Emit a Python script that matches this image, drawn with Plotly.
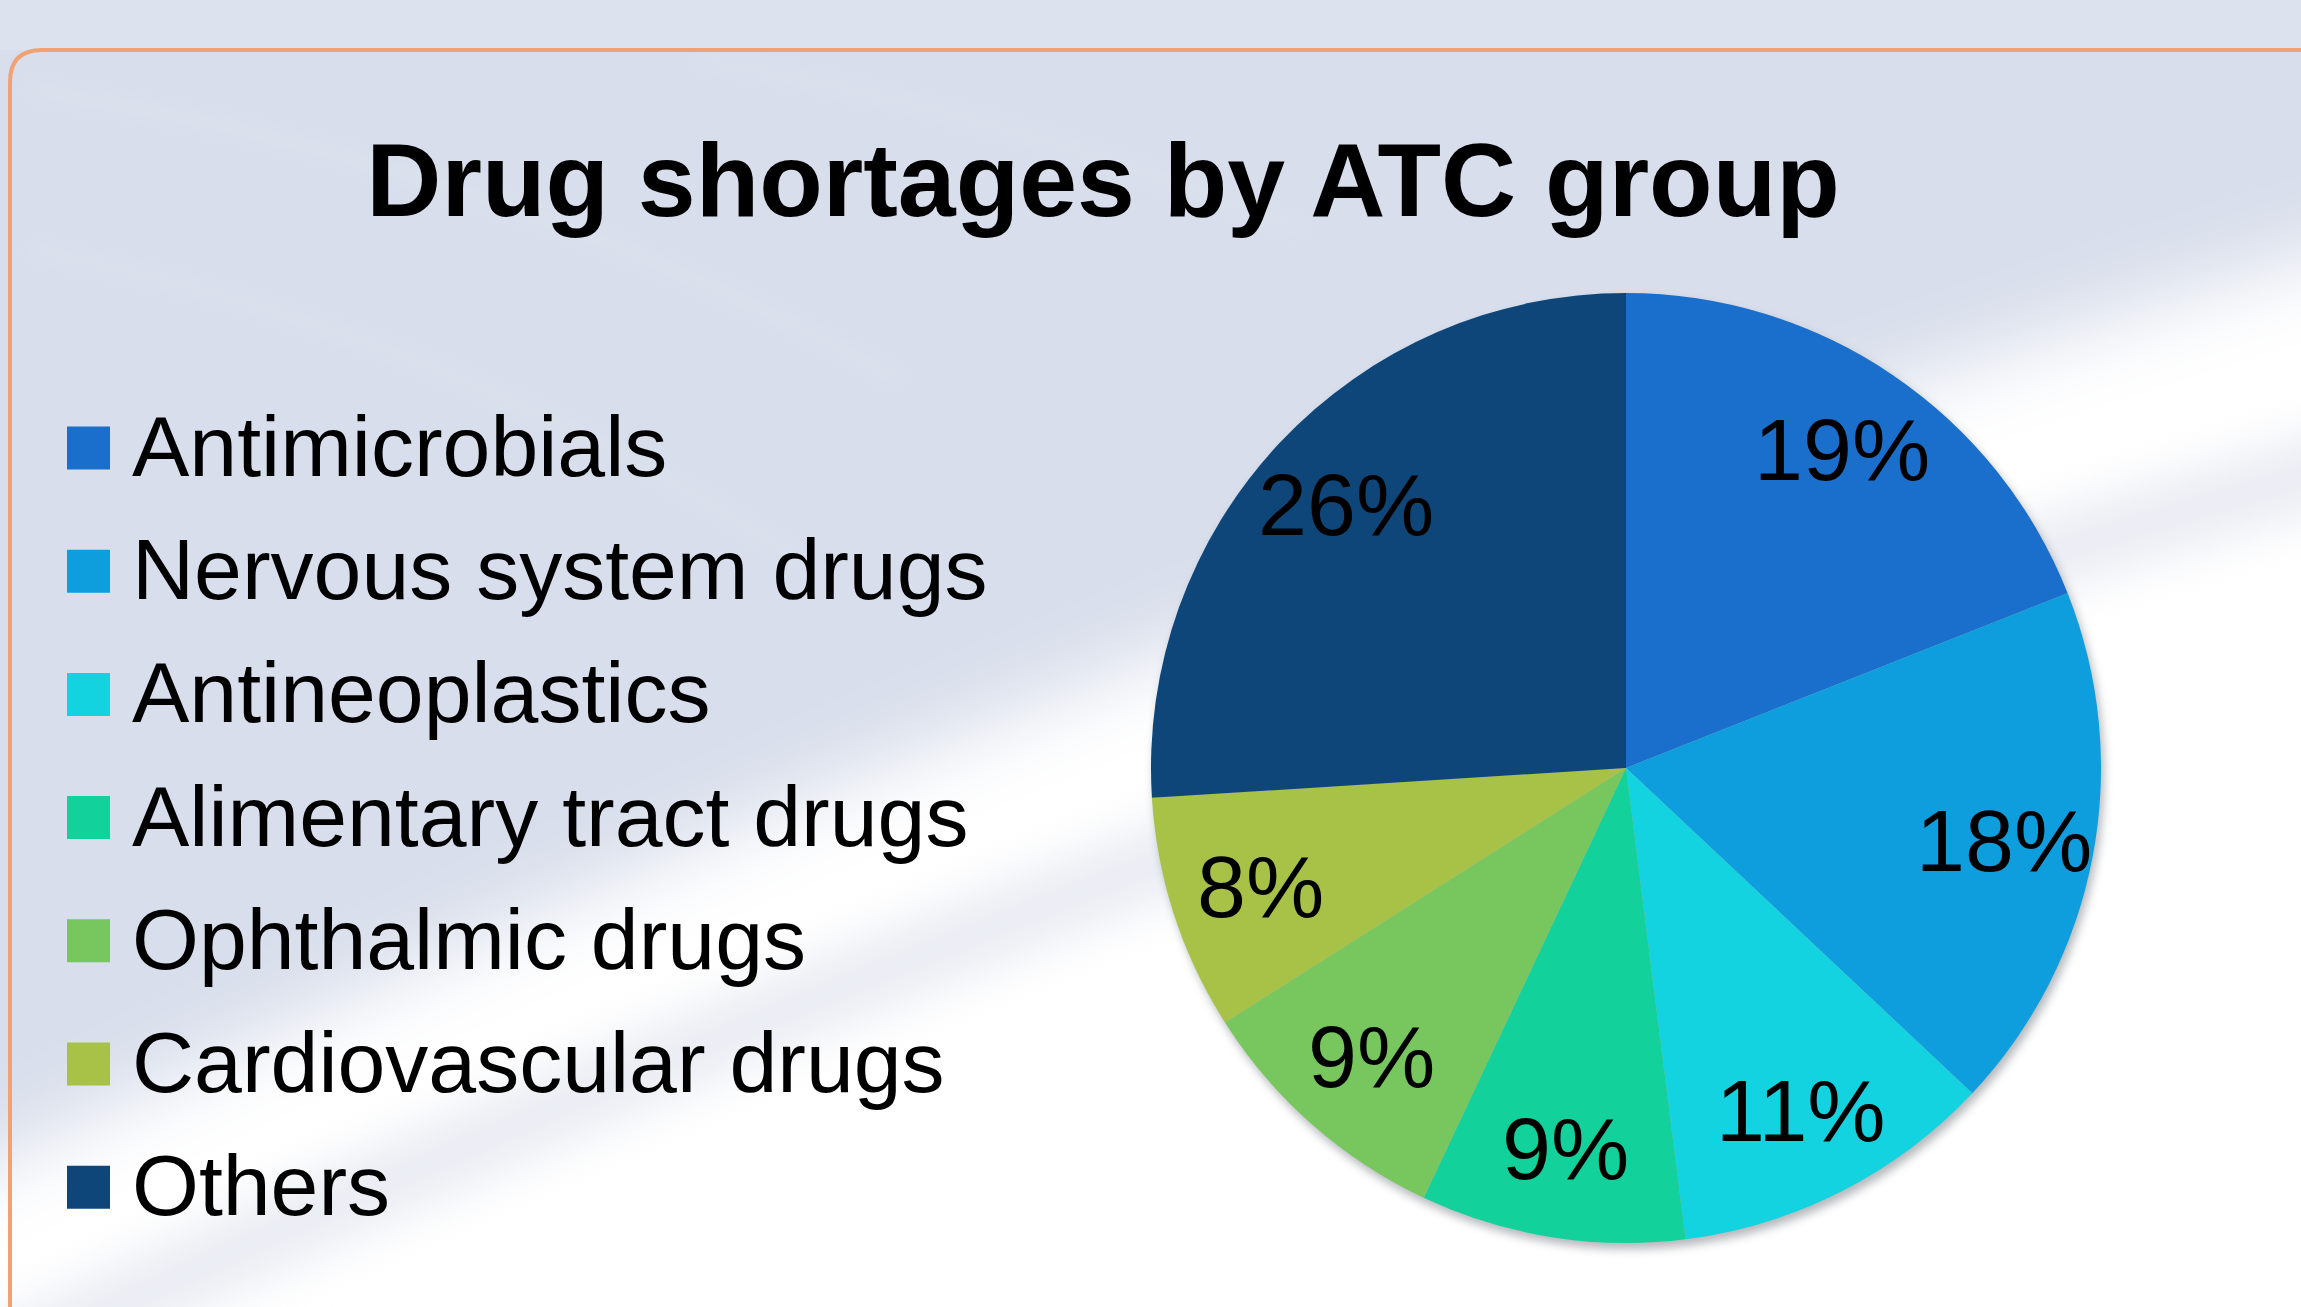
import base64
import math
import plotly.graph_objects as go

# ---- data ----
categories = [
    "Antimicrobials",
    "Nervous system drugs",
    "Antineoplastics",
    "Alimentary tract drugs",
    "Ophthalmic drugs",
    "Cardiovascular drugs",
    "Others",
]
shares = [19, 18, 11, 9, 9, 8, 26]
colors = ["#1B6FCC", "#0E9EDD", "#12D3DF", "#12D19A", "#77C75E", "#A8C248", "#0E4679"]

title_text = "Drug shortages by ATC group"

# ---- canvas / geometry (pixels) ----
W, H = 2301, 1307
PIE_CX, PIE_CY, PIE_R = 1626, 768, 475
FONT = "Liberation Sans, Arial, Helvetica, sans-serif"


def px(x):
    return x / W


def py(y):
    return 1 - y / H


# ---- slide-style background: pale blue with a soft white sweep ----
bg_svg = f"""<svg xmlns="http://www.w3.org/2000/svg" width="{W}" height="{H}" viewBox="0 0 {W} {H}">
<defs>
<filter id="soft" x="-30%" y="-30%" width="160%" height="160%"><feGaussianBlur stdDeviation="40"/></filter>
<filter id="mid" x="-30%" y="-30%" width="160%" height="160%"><feGaussianBlur stdDeviation="25"/></filter>
<filter id="thin" x="-30%" y="-30%" width="160%" height="160%"><feGaussianBlur stdDeviation="8"/></filter>
<filter id="shadow" x="-30%" y="-30%" width="160%" height="160%"><feGaussianBlur stdDeviation="5"/></filter>
</defs>
<rect width="{W}" height="{H}" fill="#D8DEEB"/>
<rect width="{W}" height="50" fill="#DDE3EE"/>
<path d="M -200 1260 Q 1100 610 2500 200 L 2500 1600 L -200 1600 Z" fill="#FFFFFF" filter="url(#soft)"/>
<path d="M -200 1460 Q 1100 810 2500 420" fill="none" stroke="#D9DEEA" stroke-width="70" opacity="0.6" filter="url(#mid)"/>
<path d="M 30 90 Q 500 160 900 380" fill="none" stroke="#FFFFFF" stroke-width="8" opacity="0.16" filter="url(#thin)"/>
<path d="M 30 250 Q 450 330 800 560" fill="none" stroke="#FFFFFF" stroke-width="8" opacity="0.14" filter="url(#thin)"/>
<path d="M 700 60 Q 1000 110 1300 230" fill="none" stroke="#FFFFFF" stroke-width="8" opacity="0.14" filter="url(#thin)"/>
<circle cx="{PIE_CX + 3}" cy="{PIE_CY + 6}" r="{PIE_R}" fill="#6A6F78" opacity="0.5" filter="url(#shadow)"/>
<path d="M 10 1400 L 10 82 Q 10 50 42 50 L 2400 50" fill="none" stroke="#F0A274" stroke-width="4"/>
</svg>"""
bg_uri = "data:image/svg+xml;base64," + base64.b64encode(bg_svg.encode()).decode()

fig = go.Figure()

fig.add_trace(
    go.Pie(
        labels=categories,
        values=shares,
        sort=False,
        direction="clockwise",
        rotation=0,
        marker=dict(colors=colors, line=dict(width=0)),
        textinfo="none",
        hoverinfo="label+percent",
        showlegend=False,
        domain=dict(
            x=[px(PIE_CX - PIE_R), px(PIE_CX + PIE_R)],
            y=[py(PIE_CY + PIE_R), py(PIE_CY - PIE_R)],
        ),
    )
)

annotations = []

# percentage labels placed along each slice's mid-angle
total = sum(shares)
cum = 0
for v in shares:
    mid = (cum + v / 2) / total * 2 * math.pi
    cum += v
    lx = PIE_CX + 0.81 * PIE_R * math.sin(mid)
    ly = PIE_CY - 0.81 * PIE_R * math.cos(mid)
    annotations.append(
        dict(
            x=px(lx), y=py(ly), xref="paper", yref="paper",
            text=f"{round(v / total * 100)}%", showarrow=False,
            xanchor="center", yanchor="middle",
            font=dict(family=FONT, size=88, color="#000000"),
        )
    )

# legend: square swatch + label per category
shapes = []
LEG_Y0, LEG_STEP = 448, 123.2
for i, (name, col) in enumerate(zip(categories, colors)):
    yc = LEG_Y0 + i * LEG_STEP
    shapes.append(
        dict(
            type="rect", xref="paper", yref="paper",
            x0=px(67), x1=px(110), y0=py(yc + 21.5), y1=py(yc - 21.5),
            fillcolor=col, line=dict(width=0),
        )
    )
    annotations.append(
        dict(
            x=px(130), y=py(yc - 2), xref="paper", yref="paper",
            text=name, showarrow=False, xanchor="left", yanchor="middle",
            font=dict(family=FONT, size=86, color="#000000"),
        )
    )

fig.update_layout(
    width=W,
    height=H,
    margin=dict(l=0, r=0, t=0, b=0),
    paper_bgcolor="#D8DEEB",
    plot_bgcolor="rgba(0,0,0,0)",
    title=dict(
        text=f"<b>{title_text}</b>",
        x=px(1103), xanchor="center",
        y=py(180), yanchor="middle", yref="container",
        font=dict(family=FONT, size=104, color="#000000"),
    ),
    images=[
        dict(
            source=bg_uri, xref="paper", yref="paper", x=0, y=1,
            sizex=1, sizey=1, xanchor="left", yanchor="top",
            sizing="stretch", layer="below",
        )
    ],
    shapes=shapes,
    annotations=annotations,
)

fig.write_html("out.html")
